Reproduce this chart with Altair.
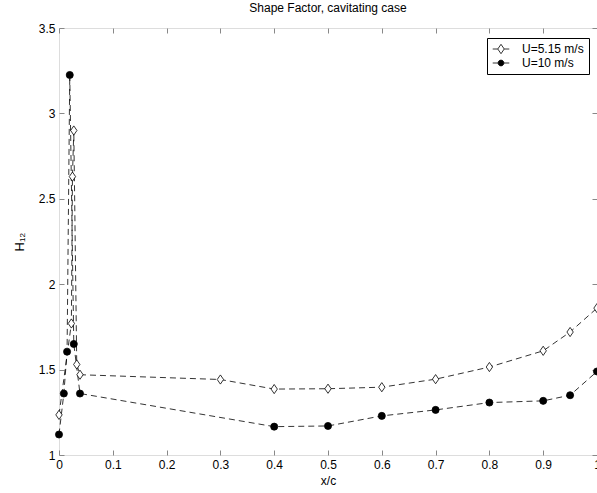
import altair as alt
import pandas as pd

# Shape factor H12 along the chord, cavitating case
series_names = ["U=5.15 m/s", "U=10 m/s"]

x_slow = [0.0, 0.023, 0.025, 0.0275, 0.033, 0.039, 0.3, 0.4, 0.5, 0.6, 0.7, 0.8, 0.9, 0.95, 1.0]
h_slow = [1.235, 1.77, 2.63, 2.90, 1.53, 1.47, 1.442, 1.386, 1.388, 1.397, 1.444, 1.515, 1.61, 1.72, 1.86]

x_fast = [0.0, 0.009, 0.015, 0.02, 0.0275, 0.039, 0.4, 0.5, 0.6, 0.7, 0.8, 0.9, 0.95, 1.0]
h_fast = [1.12, 1.36, 1.605, 3.225, 1.65, 1.36, 1.166, 1.17, 1.229, 1.264, 1.307, 1.317, 1.35, 1.489]

x_ticks = [0, 0.1, 0.2, 0.3, 0.4, 0.5, 0.6, 0.7, 0.8, 0.9, 1.0]
y_ticks = [1, 1.5, 2, 2.5, 3, 3.5]

rows = []
for name, xs, hs in [(series_names[0], x_slow, h_slow), (series_names[1], x_fast, h_fast)]:
    for i, (xv, hv) in enumerate(zip(xs, hs)):
        rows.append({"series": name, "x": xv, "h": hv, "idx": i})
df = pd.DataFrame(rows)

FONT = "Liberation Sans"
W, H = 538, 427

# tall diamond and circle markers
diamond_path = "M0,-1.3L0.9,0L0,1.3L-0.9,0Z"
legend_diamond = "M-2.3,0H-0.9M0.9,0H2.3M0,-1.3L0.9,0L0,1.3L-0.9,0Z"
legend_circle = "M-2.3,0H-0.8M0.8,0H2.3M0.8,0A0.8,0.8,0,1,1,-0.8,0A0.8,0.8,0,1,1,0.8,0Z"

x_scale = alt.Scale(domain=[0, 1], nice=False, zero=False)
y_scale = alt.Scale(domain=[1, 3.5], nice=False, zero=False)

base = alt.Chart(df)

lines = base.mark_line(color="black", strokeWidth=0.8, strokeDash=[6, 4], clip=False).encode(
    x=alt.X("x:Q", scale=x_scale, title="x/c",
            axis=alt.Axis(values=x_ticks, format="~g", orient="bottom", offset=-5, tickSize=5,
                          domain=False, grid=False, labelPadding=4, titlePadding=5,
                          labelFlush=False, labelFontSize=12, titleFontSize=12,
                          titleFontWeight="normal")),
    y=alt.Y("h:Q", scale=y_scale, title="H₁₂",
            axis=alt.Axis(values=y_ticks, format="~g", orient="left", offset=-5, tickSize=5,
                          domain=False, grid=False, labelPadding=4, titlePadding=12,
                          labelFlush=False, labelFontSize=12, titleFontSize=13,
                          titleFontWeight="normal")),
    detail="series:N",
    order="idx:Q",
)

points = base.mark_point(filled=False, stroke="black", strokeWidth=0.8, size=50, opacity=1).encode(
    x=alt.X("x:Q", scale=x_scale, title=None,
            axis=alt.Axis(values=x_ticks, orient="top", offset=-5, tickSize=5, labels=False,
                          domain=False, grid=False)),
    y=alt.Y("h:Q", scale=y_scale, title=None,
            axis=alt.Axis(values=y_ticks, orient="right", offset=-5, tickSize=5, labels=False,
                          domain=False, grid=False)),
    shape=alt.Shape("series:N", scale=alt.Scale(domain=series_names, range=[diamond_path, "circle"]),
                    legend=None),
    fill=alt.Fill("series:N", scale=alt.Scale(domain=series_names, range=["white", "black"]),
                  legend=None),
)

legend_opts = dict(title=None, orient="none", legendX=428, legendY=10,
                   symbolOpacity=1, symbolSize=52, symbolStrokeWidth=0.8,
                   labelFont=FONT, labelFontSize=12, labelColor="black", padding=5,
                   strokeColor="black", fillColor="white", rowPadding=1, symbolOffset=3,
                   labelOffset=15, cornerRadius=0)

legend_layer = base.mark_point(filled=False, strokeWidth=0.8, opacity=0).encode(
    x=alt.X("x:Q", scale=x_scale, axis=None),
    y=alt.Y("h:Q", scale=y_scale, axis=None),
    shape=alt.Shape("series:N",
                    scale=alt.Scale(domain=series_names, range=[legend_diamond, legend_circle]),
                    legend=alt.Legend(**legend_opts)),
    fill=alt.Fill("series:N", scale=alt.Scale(domain=series_names, range=["white", "black"]),
                  legend=alt.Legend(**legend_opts)),
    stroke=alt.Stroke("series:N", scale=alt.Scale(domain=series_names, range=["black", "black"]),
                      legend=alt.Legend(**legend_opts)),
)

chart = (
    alt.layer(lines, points, legend_layer)
    .resolve_scale(shape="independent", fill="independent", stroke="independent")
    .resolve_axis(x="independent", y="independent")
    .properties(
        width=W, height=H,
        autosize=alt.AutoSizeParams(type="none"),
        padding={"left": 59, "top": 28, "right": 0, "bottom": 38},
        title=alt.TitleParams("Shape Factor, cavitating case", font=FONT, fontSize=12,
                              fontWeight="normal", color="black", offset=7, anchor="middle"),
    )
    .configure_view(stroke="black", strokeWidth=1)
    .configure_axis(labelFont=FONT, labelColor="black", titleFont=FONT,
                    titleColor="black", tickColor="black", tickWidth=0.8)
    .configure(background="white")
)

chart.save("out.html", embed_options={"renderer": "svg", "actions": False})
